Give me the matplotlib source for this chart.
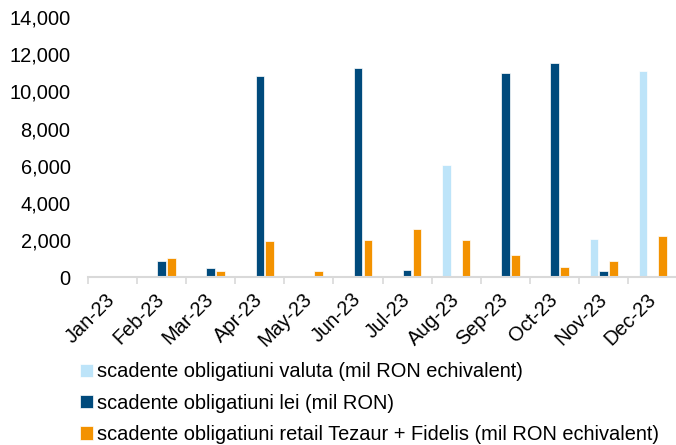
import numpy as np
import matplotlib
matplotlib.use("Agg")
import matplotlib.pyplot as plt
from matplotlib.ticker import FuncFormatter

plt.rcParams['font.family'] = ['Liberation Sans', 'DejaVu Sans']

# Data (mil RON)
months = ['Jan-23', 'Feb-23', 'Mar-23', 'Apr-23', 'May-23', 'Jun-23',
          'Jul-23', 'Aug-23', 'Sep-23', 'Oct-23', 'Nov-23', 'Dec-23']
valuta = [0, 0, 0, 0, 0, 0, 0, 6050, 0, 0, 2060, 11110]
lei = [0, 840, 480, 10840, 0, 11240, 390, 0, 11000, 11540, 320, 0]
retail = [0, 1000, 330, 1920, 340, 1990, 2585, 1990, 1200, 540, 880, 2225]

labels = ['scadente obligatiuni valuta (mil RON echivalent)',
          'scadente obligatiuni lei (mil RON)',
          'scadente obligatiuni retail Tezaur + Fidelis (mil RON echivalent)']
colors = ['#BDE4F9', '#004A7C', '#F39200']

fs = 14.4
fig = plt.figure(figsize=(6.76, 4.45), dpi=100)
ax = fig.add_axes([0.130, 0.3775, 0.872, 0.584])

x = np.arange(len(months))
w = 0.175
step = 0.2
for i, (vals, col, lab) in enumerate(zip([valuta, lei, retail], colors, labels)):
    ax.bar(x + (i - 1) * step, vals, width=w, color=col, label=lab,
           edgecolor='white', linewidth=0.5)

ax.set_xlim(-0.5, len(months) - 0.5)
ax.set_ylim(0, 14000)
ax.set_yticks(range(0, 14001, 2000))
ax.yaxis.set_major_formatter(FuncFormatter(lambda v, p: f'{int(v):,}'))
ax.tick_params(axis='y', length=0, pad=12.5, labelsize=fs)

ax.set_xticks(x)
ax.set_xticklabels(months, rotation=45, ha='right', va='center',
                   rotation_mode='anchor', fontsize=fs)
ax.tick_params(axis='x', which='major', length=0, pad=14)
ax.set_xticks(np.arange(-0.5, len(months)), minor=True)
ax.tick_params(axis='x', which='minor', length=5, color='#D9D9D9', width=1.2)

for s in ['top', 'right', 'left']:
    ax.spines[s].set_visible(False)
ax.spines['bottom'].set_color('#D9D9D9')
ax.spines['bottom'].set_linewidth(1.5)

fig.legend(loc='upper left', bbox_to_anchor=(0.118, 0.186), frameon=False,
           fontsize=fs, handlelength=0.65, handleheight=0.65, handletextpad=0.2,
           labelspacing=0.62, borderaxespad=0, borderpad=0)

fig.savefig('out.png', dpi=100)
